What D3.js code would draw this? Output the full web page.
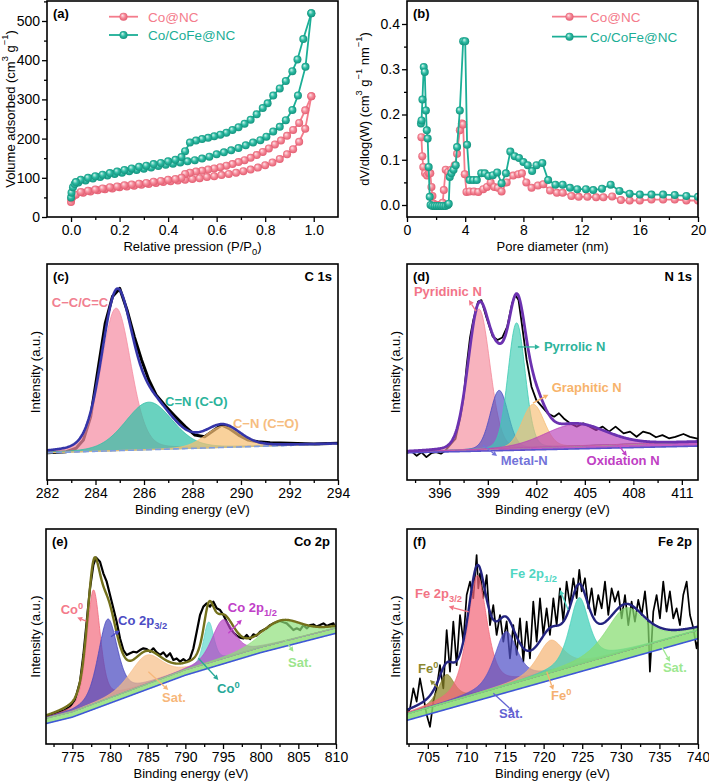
<!DOCTYPE html>
<html>
<head>
<meta charset="utf-8">
<script src="https://cdn.jsdelivr.net/npm/d3@7/dist/d3.min.js"></script>
<style>
  body { margin: 0; background: #fff; }
  svg { display: block; }
  text { font-family: "Liberation Sans", Arial, Helvetica, sans-serif; }
</style>
</head>
<body>
<div id="chart"></div>
<script>
// --------------------------------------
//  Data: (a) N2 isotherms  [P/P0, cm3 g-1]
// --------------------------------------
const isoCoAds = [[0,38],[0.002,47],[0.008,53],[0.02,57],[0.05,62],[0.08,65],[0.11,68],[0.14,71],[0.17,73],[0.20,76],
  [0.23,78],[0.26,80],[0.29,82],[0.32,84],[0.35,87],[0.38,89],[0.41,91],[0.44,93],[0.47,95],[0.50,97],
  [0.53,99],[0.56,102],[0.59,104],[0.62,107],[0.65,110],[0.68,113],[0.71,117],[0.74,121],[0.77,126],[0.80,132],
  [0.83,139],[0.86,148],[0.89,160],[0.915,173],[0.94,192],[0.965,225],[0.99,308]];
const isoCoDes = [[0.99,308],[0.965,272],[0.94,240],[0.915,222],[0.89,207],[0.865,195],[0.84,185],[0.815,175],[0.79,166],[0.765,158],
  [0.74,151],[0.715,145],[0.69,140],[0.665,135],[0.64,131],[0.615,127],[0.59,124],[0.565,121],[0.54,118],[0.515,116],
  [0.49,113],[0.47,110],[0.455,100],[0.43,97],[0.40,95],[0.37,92],[0.34,90],[0.31,87],[0.28,85],[0.25,83],
  [0.22,81],[0.19,78],[0.16,76],[0.13,73],[0.10,70],[0.07,67],[0.04,64]];
const isoCfAds = [[0,50],[0.002,62],[0.008,76],[0.015,84],[0.03,88],[0.06,93],[0.09,98],[0.12,102],[0.15,106],[0.18,110],
  [0.21,113],[0.24,117],[0.27,120],[0.30,123],[0.33,126],[0.36,130],[0.39,133],[0.42,136],[0.45,139],[0.48,142],
  [0.51,145],[0.54,149],[0.57,154],[0.60,160],[0.63,165],[0.66,170],[0.69,176],[0.72,183],[0.75,190],[0.78,196],
  [0.805,205],[0.833,218],[0.86,230],[0.885,247],[0.912,273],[0.935,310],[0.966,383],[0.99,520]];
const isoCfDes = [[0.99,520],[0.957,454],[0.933,402],[0.912,372],[0.885,347],[0.86,328],[0.833,310],[0.81,290],[0.79,278],[0.765,262],
  [0.74,248],[0.715,238],[0.69,229],[0.665,222],[0.64,215],[0.615,210],[0.59,206],[0.565,202],[0.54,199],[0.515,195],
  [0.49,190],[0.47,168],[0.455,153],[0.43,146],[0.40,142],[0.37,138],[0.34,135],[0.31,131],[0.28,128],[0.25,124],
  [0.22,120],[0.19,116],[0.16,112],[0.13,108],[0.10,104],[0.07,100],[0.04,95],[0.02,89]];

// (b) pore size distribution  [nm, dV/dlog(W)]
const psdCo = [[0.99,0.15],[1.05,0.108],[1.12,0.084],[1.24,0.07],[1.38,0.065],[1.5,0.07],[1.6,0.07],[1.68,0.04],[1.75,0.02],[1.84,0.003],
  [2.0,0.0],[2.15,0.0],[2.3,0.0],[2.45,0.005],[2.53,0.033],[2.66,0.078],[2.83,0.073],[3.05,0.078],[3.28,0.088],[3.44,0.113],
  [3.63,0.165],[3.77,0.18],[3.86,0.178],[3.97,0.068],[4.09,0.029],[4.3,0.03],[4.6,0.03],[4.9,0.029],[5.24,0.035],[5.5,0.04],
  [5.75,0.05],[6.0,0.04],[6.25,0.038],[6.5,0.03],[6.85,0.05],[7.3,0.065],[7.65,0.068],[7.9,0.07],[8.2,0.05],[8.56,0.038],
  [9.0,0.043],[9.37,0.046],[9.83,0.032],[10.3,0.027],[10.7,0.027],[11.3,0.02],[11.8,0.018],[12.4,0.018],[13.0,0.017],[13.5,0.017],
  [14.1,0.019],[14.7,0.011],[15.3,0.01],[16.0,0.01],[16.8,0.012],[17.6,0.012],[18.4,0.012],[19.2,0.01],[20.0,0.01]];
const psdCf = [[0.96,0.18],[1.0,0.187],[1.06,0.233],[1.15,0.305],[1.22,0.294],[1.3,0.209],[1.36,0.165],[1.42,0.147],[1.49,0.084],[1.56,0.018],
  [1.62,0.0],[1.75,-0.002],[1.9,-0.002],[2.05,-0.002],[2.2,-0.002],[2.35,-0.002],[2.5,-0.002],[2.65,-0.002],[2.8,0.0],[2.87,0.003],
  [2.94,0.062],[3.05,0.07],[3.2,0.078],[3.35,0.088],[3.44,0.128],[3.63,0.209],[3.86,0.362],[4.0,0.362],[4.13,0.133],[4.3,0.055],
  [4.55,0.055],[4.8,0.055],[5.1,0.07],[5.35,0.07],[5.6,0.064],[5.9,0.066],[6.2,0.072],[6.5,0.048],[6.8,0.07],[7.1,0.118],
  [7.4,0.108],[7.7,0.104],[8.0,0.095],[8.3,0.088],[8.6,0.075],[8.9,0.088],[9.3,0.093],[9.7,0.055],[10.2,0.045],[10.7,0.045],
  [11.2,0.038],[11.7,0.035],[12.3,0.035],[12.8,0.033],[13.4,0.036],[14.0,0.045],[14.6,0.031],[15.3,0.025],[16.0,0.023],[16.8,0.023],
  [17.6,0.023],[18.4,0.022],[19.2,0.02],[20.0,0.018]];
const seriesNames = ["Co@NC", "Co/CoFe@NC"];

// --------------------------------------
//  Data: XPS fits (intensity in arbitrary units, 0-100 of panel height)
// --------------------------------------
// C 1s
const c1sNames = ["C−C/C=C", "C=N (C-O)", "C−N (C=O)"];
const c1sCenter = [284.85, 286.2, 289.25];
const c1sHeight = [66, 22, 9.8];
const c1sFwhm = [1.45, 2.3, 1.7];
const c1sBgE = [282, 294], c1sBgI = [12.6, 16.7];
const c1sRaw = [[282.0,12.6],[282.8,13.1],[283.2,14.7],[283.5,18.5],[283.8,29.3],[284.1,50.9],[284.4,72.5],[284.7,84.9],[285.0,88.7],[285.3,78.7],
  [285.6,66.4],[285.9,55.6],[286.2,46.3],[286.5,39.4],[286.9,34.0],[287.3,29.3],[287.7,24.7],[288.1,20.8],[288.5,20.0],[288.9,23.1],
  [289.2,25.5],[289.5,23.9],[289.9,20.8],[290.3,18.5],[290.7,17.7],[291.2,17.3],[292.0,17.0],[293.0,16.7],[294.0,17.0]];

// N 1s
const n1sNames = ["Pyridinic N", "Metal-N", "Pyrrolic N", "Graphitic N", "Oxidation N"];
const n1sCenter = [398.45, 399.7, 400.78, 401.8, 404.4];
const n1sHeight = [65, 27, 58, 20, 10];
const n1sFwhm = [1.6, 1.3, 1.25, 1.6, 4.5];
const n1sBgE = [394, 412], n1sBgI = [12.6, 15.7];
const n1sBandE = [394, 412], n1sBandI = [0.4, 2.0];
const n1sRaw = [[394.0,12.5],[394.3,13.2],[394.6,11.2],[394.9,12.8],[395.2,10.6],[395.5,12.4],[395.8,12.9],[396.1,12.2],[396.4,13.8],[396.7,16.5],
  [397.0,19.0],[397.3,29.0],[397.5,38],[397.7,53.5],[397.9,66],[398.1,74],[398.4,82.6],[398.6,83.3],[398.9,75.6],[399.3,66.4],
  [399.6,64.8],[399.9,66],[400.2,71],[400.5,81.8],[400.7,85.6],[400.9,83.3],[401.1,72.5],[401.4,55.6],[401.7,43.2],[402.0,37],
  [402.35,34],[402.7,30.9],[403.1,29.3],[403.4,30.9],[403.7,28.5],[404.1,26.2],[404.5,24.7],[404.9,26.2],[405.3,24.7],[405.7,23.1],
  [406.1,24.7],[406.5,22.4],[406.9,24.7],[407.4,21.6],[407.8,22.4],[408.2,20],[408.6,22.4],[409.0,21.6],[409.4,19.8],[409.8,20.8],
  [410.2,19.3],[410.6,20],[411.1,21.3],[411.5,20],[411.9,19.3],[412.0,19.0]];

// Co 2p
const co2pNames = ["Co0", "Co 2p3/2", "Sat.", "Co0", "Co 2p1/2", "Sat."];
const co2pCenter = [777.8, 779.7, 784.8, 793.1, 795.0, 802.7];
const co2pHeight = [53, 37, 13.5, 19, 18, 9.5];
const co2pFwhm = [2.1, 3.0, 5.0, 1.6, 3.5, 6.5];
const co2pBgE = [771.5, 775, 780, 790, 800, 810], co2pBgI = [9.5, 12.5, 19, 32, 42.5, 51.5];
const co2pBandE = [771.5, 810], co2pBandI = [2.5, 2.5];
const co2pRaw = [[771.63,12.7],[772.47,13.8],[773.36,15.0],[774.02,15.8],[774.69,17.4],[775.35,20.5],[776.02,29.0],[776.46,41.4],[776.90,56.9],[777.34,72.4],
  [777.79,83.3],[778.14,86.7],[778.67,84.8],[779.11,79.4],[779.56,75.5],[780.00,69.3],[780.44,63.1],[780.88,56.9],[781.33,49.1],[781.77,43.7],
  [782.21,41.4],[782.66,42.2],[783.10,42.9],[783.54,42.6],[783.98,43.7],[784.43,44.5],[784.87,44.2],[785.31,42.9],[785.75,44.5],[786.20,42.6],
  [786.64,41.4],[787.08,42.6],[787.52,40.6],[787.97,42.2],[788.41,39.1],[788.85,39.8],[789.30,38.3],[789.74,39.5],[790.18,38.3],[790.62,39.8],
  [791.07,44.5],[791.51,52.2],[791.95,60.0],[792.39,63.9],[792.84,65.4],[793.28,63.9],[793.72,66.2],[794.16,63.1],[794.61,62.3],[795.05,60.0],
  [795.49,56.9],[795.94,53.8],[796.38,51.9],[796.82,50.4],[797.26,49.5],[797.71,49.1],[798.15,50.7],[798.59,48.8],[799.03,51.0],[799.48,50.4],
  [799.92,52.2],[800.36,53.0],[800.80,53.8],[801.25,55.3],[801.69,56.1],[802.13,56.6],[802.57,57.2],[803.02,56.6],[803.46,56.1],[803.90,54.6],
  [804.34,53.0],[804.79,53.8],[805.23,53.0],[805.67,55.3],[806.11,53.8],[806.56,55.3],[807.00,55.6],[807.44,54.6],[807.88,55.3],[808.33,56.1],
  [808.77,54.9],[809.21,55.6],[809.66,56.1],[809.88,53.8]];

// Fe 2p
const fe2pNames = ["Fe0", "Fe 2p3/2", "Sat.", "Fe0", "Fe 2p1/2", "Sat."];
const fe2pCenter = [707.4, 711.4, 715.1, 720.9, 724.6, 730.6];
const fe2pHeight = [13, 55, 25, 15, 31, 20];
const fe2pFwhm = [2.5, 3.0, 3.5, 4.0, 3.0, 6.0];
const fe2pBgE = [702.3, 740], fe2pBgI = [11, 49];
const fe2pBandE = [702.3, 740], fe2pBandI = [3, 4];
const fe2pRaw = [[702.34,13.6],[702.69,16.6],[703.12,25.9],[703.55,19.7],[703.98,30.5],[704.42,22],[704.85,13.6],[705.28,8],[705.71,19.7],[706.14,25.9],
  [706.57,36.7],[707.01,25.9],[707.44,53],[707.87,33.6],[708.30,56.9],[708.73,36.7],[709.17,60],[709.60,47.6],[710.03,69.3],[710.46,75.5],
  [710.89,67.8],[711.32,87.9],[711.54,72.4],[711.76,79.4],[712.19,67.8],[712.62,78.6],[713.05,55.3],[713.48,64.6],[713.91,50.7],[714.35,60],
  [714.78,47.6],[715.21,57],[715.64,39.8],[716.07,55.3],[716.51,41.4],[716.94,58.4],[717.37,38.3],[717.80,56.9],[718.23,39.8],[718.66,66.2],
  [719.10,47.6],[719.53,67.8],[719.96,50.7],[720.39,63.1],[720.82,50.7],[721.26,67.8],[721.69,55.3],[722.12,72.4],[722.55,56.9],[722.98,75.5],
  [723.41,64.6],[723.85,77.1],[724.28,67.8],[724.62,81],[724.93,71],[725.36,77.1],[725.79,63.1],[726.22,72.4],[726.65,60],[727.08,69.3],
  [727.52,63.1],[727.95,75.5],[728.38,60],[728.81,72.4],[729.24,66.2],[729.67,71],[730.11,58.4],[730.54,69.3],[730.97,55.3],[731.40,66.2],
  [731.83,56.9],[732.26,67],[732.70,60],[733.13,71],[733.56,55.3],[733.77,33.6],[734.21,61.6],[734.64,69.3],[735.07,58.4],[735.50,75.5],
  [735.93,61.6],[736.36,71],[736.80,58.4],[737.23,63.1],[737.66,55.3],[738.09,69.3],[738.53,75.5],[738.96,60],[739.39,54],[739.82,44.5],
  [739.95,47.6]];

// tick values
const isoTicksX = [0, 0.2, 0.4, 0.6, 0.8, 1.0], isoTicksY = [0, 100, 200, 300, 400, 500];
const psdTicksX = [0, 4, 8, 12, 16, 20], psdTicksY = [0, 0.1, 0.2, 0.3, 0.4];
const c1sTicks = [282, 284, 286, 288, 290, 292, 294];
const n1sTicks = [396, 399, 402, 405, 408, 411];
const co2pTicks = [775, 780, 785, 790, 795, 800, 805, 810];
const fe2pTicks = [705, 710, 715, 720, 725, 730, 735, 740];

// --------------------------------------
//  Canvas
// --------------------------------------
const width = 709, height = 783;
const FONT = '"Liberation Sans", Arial, Helvetica, sans-serif';
const svg = d3.select("#chart").append("svg").attr("width", width).attr("height", height);
const defs = svg.append("defs");

const boxes = {
  a: {x0: 47, x1: 338, y0: 1, y1: 217},
  b: {x0: 407, x1: 698, y0: 1, y1: 217},
  c: {x0: 47, x1: 338, y0: 264, y1: 480},
  d: {x0: 407, x1: 698, y0: 264, y1: 480},
  e: {x0: 46, x1: 336, y0: 529, y1: 744},
  f: {x0: 407, x1: 698, y0: 529, y1: 744}
};

const pink = "#f47c8c", teal = "#1bae96";

function ball(id, c0, c1, c2) {
  const g = defs.append("radialGradient").attr("id", id)
    .attr("cx", "50%").attr("cy", "50%").attr("r", "55%").attr("fx", "35%").attr("fy", "32%");
  g.append("stop").attr("offset", "0%").attr("stop-color", c0);
  g.append("stop").attr("offset", "50%").attr("stop-color", c1);
  g.append("stop").attr("offset", "100%").attr("stop-color", c2);
}
ball("ballPink", "#fde8ec", "#f58a99", "#e0566b");
ball("ballTeal", "#d6f6ef", "#2cbaa2", "#0f8d78");

function makePanel(key, xDomain, yDomain) {
  const b = boxes[key];
  const x = d3.scaleLinear().domain(xDomain).range([b.x0, b.x1]);
  const y = d3.scaleLinear().domain(yDomain).range([b.y1, b.y0]);
  const g = svg.append("g");
  defs.append("clipPath").attr("id", "clip-" + key).append("rect")
    .attr("x", b.x0).attr("y", b.y0).attr("width", b.x1 - b.x0).attr("height", b.y1 - b.y0);
  const plot = g.append("g").attr("clip-path", `url(#clip-${key})`);
  return {key, b, x, y, g, plot};
}

function rich(sel, parts, size) {
  let shift = 0;
  parts.forEach(([t, kind]) => {
    const target = kind === "sub" ? 0.3 * size : kind === "sup" ? -0.38 * size : 0;
    const ts = sel.append("tspan").text(t).attr("dy", target - shift);
    if (kind) ts.attr("font-size", size * 0.72);
    shift = target;
  });
  return sel;
}

function axes(p, xMajor, xMinor, yMajor, yMinor, xFmt, yFmt) {
  const b = p.b;
  p.g.append("g").attr("transform", `translate(0,${b.y1})`)
    .call(d3.axisBottom(p.x).tickValues(xMinor).tickSize(3).tickFormat(""));
  p.g.append("g").attr("transform", `translate(0,${b.y1})`)
    .call(d3.axisBottom(p.x).tickValues(xMajor).tickSize(5).tickPadding(3).tickFormat(xFmt));
  if (yMajor) {
    p.g.append("g").attr("transform", `translate(${b.x0},0)`)
      .call(d3.axisLeft(p.y).tickValues(yMinor).tickSize(3).tickFormat(""));
    p.g.append("g").attr("transform", `translate(${b.x0},0)`)
      .call(d3.axisLeft(p.y).tickValues(yMajor).tickSize(5).tickPadding(2).tickFormat(yFmt));
  }
  p.g.selectAll(".domain").remove();
  p.g.selectAll(".tick line").attr("stroke", "#000").attr("stroke-width", 1.3);
  p.g.selectAll(".tick text").attr("font-size", 14).attr("fill", "#000").attr("font-family", FONT);
  p.g.append("rect").attr("x", b.x0).attr("y", b.y0).attr("width", b.x1 - b.x0).attr("height", b.y1 - b.y0)
    .attr("fill", "none").attr("stroke", "#000").attr("stroke-width", 1.6);
}

function titles(p, tag, name, xParts, yParts, yTitleX) {
  const b = p.b;
  p.g.append("text").attr("x", b.x0 + 6).attr("y", b.y0 + 17).attr("font-size", 13)
    .attr("font-weight", "bold").text(tag);
  if (name) p.g.append("text").attr("x", b.x1 - 6).attr("y", b.y0 + 17).attr("font-size", 13)
    .attr("font-weight", "bold").attr("text-anchor", "end").text(name);
  rich(p.g.append("text").attr("x", (b.x0 + b.x1) / 2).attr("y", b.y1 + 34)
    .attr("font-size", 13).attr("text-anchor", "middle"), xParts, 13);
  const cy = (b.y0 + b.y1) / 2;
  rich(p.g.append("text").attr("transform", `translate(${yTitleX},${cy}) rotate(-90)`)
    .attr("font-size", 13).attr("text-anchor", "middle").attr("dominant-baseline", "central"), yParts, 13);
}

function arrow(p, from, to, color) {
  const x1 = p.x(from[0]), y1 = p.y(from[1]), x2 = p.x(to[0]), y2 = p.y(to[1]);
  const a = Math.atan2(y2 - y1, x2 - x1), L = 5, w = 2.6;
  const bx = x2 - L * Math.cos(a), by = y2 - L * Math.sin(a);
  p.g.append("line").attr("x1", x1).attr("y1", y1).attr("x2", bx).attr("y2", by)
    .attr("stroke", color).attr("stroke-width", 1.3);
  p.g.append("polygon").attr("fill", color)
    .attr("points", [[x2, y2], [bx + w * Math.sin(a), by - w * Math.cos(a)], [bx - w * Math.sin(a), by + w * Math.cos(a)]].join(" "));
}

function notes(p, list) {
  list.forEach(n => {
    rich(p.g.append("text").attr("x", p.x(n.at[0])).attr("y", p.y(n.at[1]))
      .attr("font-size", 13).attr("font-weight", "bold").attr("fill", n.color), n.t, 13);
    if (n.from) arrow(p, n.from, n.to, n.color);
  });
}

// --------------------------------------
//  (a) isotherms
// --------------------------------------
const pa = makePanel("a", [-0.099, 1.1], [0, 551]);
const lineA = d3.line().x(d => pa.x(d[0])).y(d => pa.y(d[1]));
[[isoCoAds, isoCoDes, pink, "ballPink"], [isoCfAds, isoCfDes, teal, "ballTeal"]].forEach(([ads, des, col, fill]) => {
  [ads, des].forEach(s => {
    pa.plot.append("path").datum(s).attr("d", lineA).attr("fill", "none").attr("stroke", col).attr("stroke-width", 1.8);
  });
  pa.plot.selectAll(null).data(ads.concat(des)).join("circle")
    .attr("cx", d => pa.x(d[0])).attr("cy", d => pa.y(d[1])).attr("r", 4).attr("fill", `url(#${fill})`);
});
axes(pa, isoTicksX, d3.range(0.1, 1.0, 0.2), isoTicksY, d3.range(50, 551, 100), d3.format(".1f"), d3.format("d"));
titles(pa, "(a)", null, [["Relative pression (P/P"], ["0", "sub"], [")"]],
  [["Volume adsorbed (cm"], ["3", "sup"], [" g"], ["−1", "sup"], [")"]], 10);

// --------------------------------------
//  (b) pore size distribution
// --------------------------------------
const pb = makePanel("b", [0, 20], [-0.0265, 0.4508]);
const lineB = d3.line().x(d => pb.x(d[0])).y(d => pb.y(d[1]));
[[psdCo, pink, "ballPink"], [psdCf, teal, "ballTeal"]].forEach(([s, col, fill]) => {
  pb.plot.append("path").datum(s).attr("d", lineB).attr("fill", "none").attr("stroke", col).attr("stroke-width", 1.8);
  pb.plot.selectAll(null).data(s).join("circle")
    .attr("cx", d => pb.x(d[0])).attr("cy", d => pb.y(d[1])).attr("r", 4).attr("fill", `url(#${fill})`);
});
axes(pb, psdTicksX, [2, 6, 10, 14, 18], psdTicksY, [0.05, 0.15, 0.25, 0.35], d3.format("d"), d3.format(".1f"));
titles(pb, "(b)", null, [["Pore diameter (nm)"]],
  [["dV/dlog(W) (cm"], ["3", "sup"], [" g"], ["−1", "sup"], [" nm"], ["−1", "sup"], [")"]], 364);

// legends
function legend(x0, x1, xt, ys) {
  [[pink, "ballPink"], [teal, "ballTeal"]].forEach(([col, fill], i) => {
    svg.append("line").attr("x1", x0).attr("x2", x1).attr("y1", ys[i]).attr("y2", ys[i])
      .attr("stroke", col).attr("stroke-width", 1.8);
    svg.append("circle").attr("cx", (x0 + x1) / 2).attr("cy", ys[i]).attr("r", 4).attr("fill", `url(#${fill})`);
    svg.append("text").attr("x", xt).attr("y", ys[i] + 5).attr("font-size", 13.5).attr("fill", col).text(seriesNames[i]);
  });
}
legend(109, 138, 148, [16.7, 35]);
legend(552, 587, 590, [16.7, 36.7]);

// --------------------------------------
//  XPS panels
// --------------------------------------
function pv(e, c, h, w, m) {
  const t = (e - c) / w;
  return h * ((1 - m) * Math.exp(-4 * Math.LN2 * t * t) + m / (1 + 4 * t * t));
}

function drawXps(p, s, st) {
  const bg = d3.scaleLinear().domain(s.bgE).range(s.bgI);
  const band = s.bandE ? d3.scaleLinear().domain(s.bandE).range(s.bandI) : () => 0;
  const base = e => bg(e) + band(e);
  const [e0, e1] = p.x.domain();
  const grid = d3.range(e0, e1 + 0.02, 0.04);
  const comp = (e, i) => pv(e, s.center[i], s.height[i], s.fwhm[i], s.mix);
  const line = d3.line().x(d => p.x(d[0])).y(d => p.y(d[1]));

  p.plot.append("path").datum(s.raw).attr("d", line).attr("fill", "none")
    .attr("stroke", "#000").attr("stroke-width", st.rawWidth).attr("stroke-linejoin", "round");

  if (s.bandE) {
    p.plot.append("path").datum(grid)
      .attr("d", d3.area().x(e => p.x(e)).y0(e => p.y(bg(e))).y1(e => p.y(base(e))))
      .attr("fill", st.bandColor).attr("fill-opacity", 0.85);
  }
  s.center.forEach((c, i) => {
    p.plot.append("path").datum(grid)
      .attr("d", d3.area().x(e => p.x(e)).y0(e => p.y(base(e))).y1(e => p.y(base(e) + comp(e, i))))
      .attr("fill", st.fills[i]).attr("fill-opacity", st.opacity)
      .attr("stroke", st.fills[i]).attr("stroke-width", 0.8);
  });
  p.plot.append("path").datum(grid.map(e => [e, bg(e)])).attr("d", line).attr("fill", "none")
    .attr("stroke", st.bgColor).attr("stroke-width", 1.6).attr("stroke-dasharray", st.bgDash || null);
  p.plot.append("path").datum(grid.map(e => [e, base(e) + d3.sum(s.center, (c, i) => comp(e, i))]))
    .attr("d", line).attr("fill", "none").attr("stroke", st.envColor).attr("stroke-width", st.envWidth);
}

const xpsTitleX = [["Binding energy (eV)"]];
const xpsTitleY = [["Intensity (a.u.)"]];

// (c) C 1s
const pc = makePanel("c", [282, 294], [0, 100]);
drawXps(pc, {center: c1sCenter, height: c1sHeight, fwhm: c1sFwhm, mix: 0.2, bgE: c1sBgE, bgI: c1sBgI, raw: c1sRaw},
  {rawWidth: 3, fills: ["#f58ea3", "#2fc0a6", "#f6bf74"], opacity: 0.72, bgColor: "#7f9de0", bgDash: "6,3",
   envColor: "#3535a8", envWidth: 2.6});
axes(pc, c1sTicks, d3.range(283, 294, 2), null, null, d3.format("d"));
titles(pc, "(c)", "C 1s", xpsTitleX, xpsTitleY, 35);
notes(pc, [
  {t: [[c1sNames[0]]], at: [282.2, 80.2], color: "#f17f90"},
  {t: [[c1sNames[1]]], at: [286.87, 34.3], color: "#2bb39b"},
  {t: [[c1sNames[2]]], at: [289.67, 24.2], color: "#f6bd80"}
]);

// (d) N 1s
const pd = makePanel("d", [394, 412], [0, 100]);
drawXps(pd, {center: n1sCenter, height: n1sHeight, fwhm: n1sFwhm, mix: 0.1, bgE: n1sBgE, bgI: n1sBgI,
  bandE: n1sBandE, bandI: n1sBandI, raw: n1sRaw},
  {rawWidth: 1.8, fills: ["#f48a9b", "#4a4ac2", "#3cccb2", "#f6bd72", "#b83db8"], opacity: 0.65,
   bandColor: "#b73fb8", bgColor: "#5a50cc", envColor: "#6c32b0", envWidth: 2.8});
axes(pd, n1sTicks, d3.range(394.5, 412, 1.5).filter(v => (v - 396) % 3 !== 0), null, null, d3.format("d"));
titles(pd, "(d)", "N 1s", xpsTitleX, xpsTitleY, 395);
notes(pd, [
  {t: [[n1sNames[0]]], at: [394.43, 85.2], color: "#f27488", from: [398.27, 78.2], to: [397.83, 83.3]},
  {t: [[n1sNames[2]]], at: [402.47, 59.9], color: "#2db39b", from: [400.86, 61.6], to: [402.22, 61.6]},
  {t: [[n1sNames[3]]], at: [402.95, 40.7], color: "#f7b36b", from: [401.79, 35.6], to: [402.75, 39.5]},
  {t: [[n1sNames[1]]], at: [399.8, 6.9], color: "#7373d9", from: [398.7, 16.2], to: [399.57, 11.1]},
  {t: [[n1sNames[4]]], at: [405.11, 6.9], color: "#c040c4", from: [407.17, 15.3], to: [407.6, 11.1]}
]);

// (e) Co 2p
const pe = makePanel("e", [771.5, 810], [0, 100]);
drawXps(pe, {center: co2pCenter, height: co2pHeight, fwhm: co2pFwhm, mix: 0.4, bgE: co2pBgE, bgI: co2pBgI,
  bandE: co2pBandE, bandI: co2pBandI, raw: co2pRaw},
  {rawWidth: 2.2, fills: ["#f26b7d", "#4646bf", "#f7bd86", "#5fd7cc", "#b645c4", "#8edf7a"], opacity: 0.7,
   bandColor: "#8fdf78", bgColor: "#3f58d6", envColor: "#74711c", envWidth: 2.4});
axes(pe, co2pTicks, d3.range(772.5, 810, 5), null, null, d3.format("d"));
titles(pe, "(e)", "Co 2p", xpsTitleX, xpsTitleY, 35);
notes(pe, [
  {t: [["Co"], ["0", "sup"]], at: [773.45, 60.5], color: "#f47a8a", from: [776.84, 57.2], to: [775.64, 58.8]},
  {t: [["Co 2p"], ["3/2", "sub"]], at: [781.06, 55.3], color: "#4c4cc4", from: [780.13, 49.9], to: [781.3, 52.8]},
  {t: [["Sat."]], at: [786.9, 19.5], color: "#f7b77a", from: [785.09, 33.6], to: [787.74, 25.1]},
  {t: [["Co"], ["0", "sup"]], at: [794.21, 23.7], color: "#26a898", from: [791.73, 39.9], to: [794.38, 29.8]},
  {t: [["Co 2p"], ["1/2", "sub"]], at: [795.63, 61.5], color: "#c040c8", from: [795.71, 51.5], to: [797.5, 57.8]},
  {t: [["Sat."]], at: [803.64, 36], color: "#9be58c", from: [803.24, 48.4], to: [804.35, 42.9]}
]);

// (f) Fe 2p
const pf = makePanel("f", [702.3, 740], [0, 100]);
drawXps(pf, {center: fe2pCenter, height: fe2pHeight, fwhm: fe2pFwhm, mix: 0.6, bgE: fe2pBgE, bgI: fe2pBgI,
  bandE: fe2pBandE, bandI: fe2pBandI, raw: fe2pRaw},
  {rawWidth: 1.7, fills: ["#8a8526", "#f2687a", "#5252c8", "#f5b677", "#3fcfb7", "#86dc70"], opacity: 0.72,
   bandColor: "#86dc70", bgColor: "#3f58d6", envColor: "#23237f", envWidth: 2.4});
axes(pf, fe2pTicks, d3.range(702.5, 740, 5), null, null, d3.format("d"));
titles(pf, "(f)", "Fe 2p", xpsTitleX, xpsTitleY, 395);
notes(pf, [
  {t: [["Fe 2p"], ["3/2", "sub"]], at: [703.34, 67.9], color: "#f27484", from: [710.29, 61.5], to: [707.7, 63.9]},
  {t: [["Fe 2p"], ["1/2", "sub"]], at: [715.64, 77.2], color: "#4fd6c2", from: [723.19, 62.3], to: [722.12, 71.6]},
  {t: [["Fe"], ["0", "sup"]], at: [703.72, 33], color: "#8c8830", from: [706.35, 25.9], to: [705.28, 29.8]},
  {t: [["Sat."]], at: [714.22, 12.1], color: "#6262d2", from: [713.48, 23.6], to: [716.07, 15]},
  {t: [["Fe"], ["0", "sup"]], at: [720.95, 20.5], color: "#f5b070", from: [720.4, 33.6], to: [721.25, 25.1]},
  {t: [["Sat."]], at: [735.46, 33.6], color: "#9ee890", from: [735.29, 45.3], to: [736.37, 38.3]}
]);
</script>
</body>
</html>
